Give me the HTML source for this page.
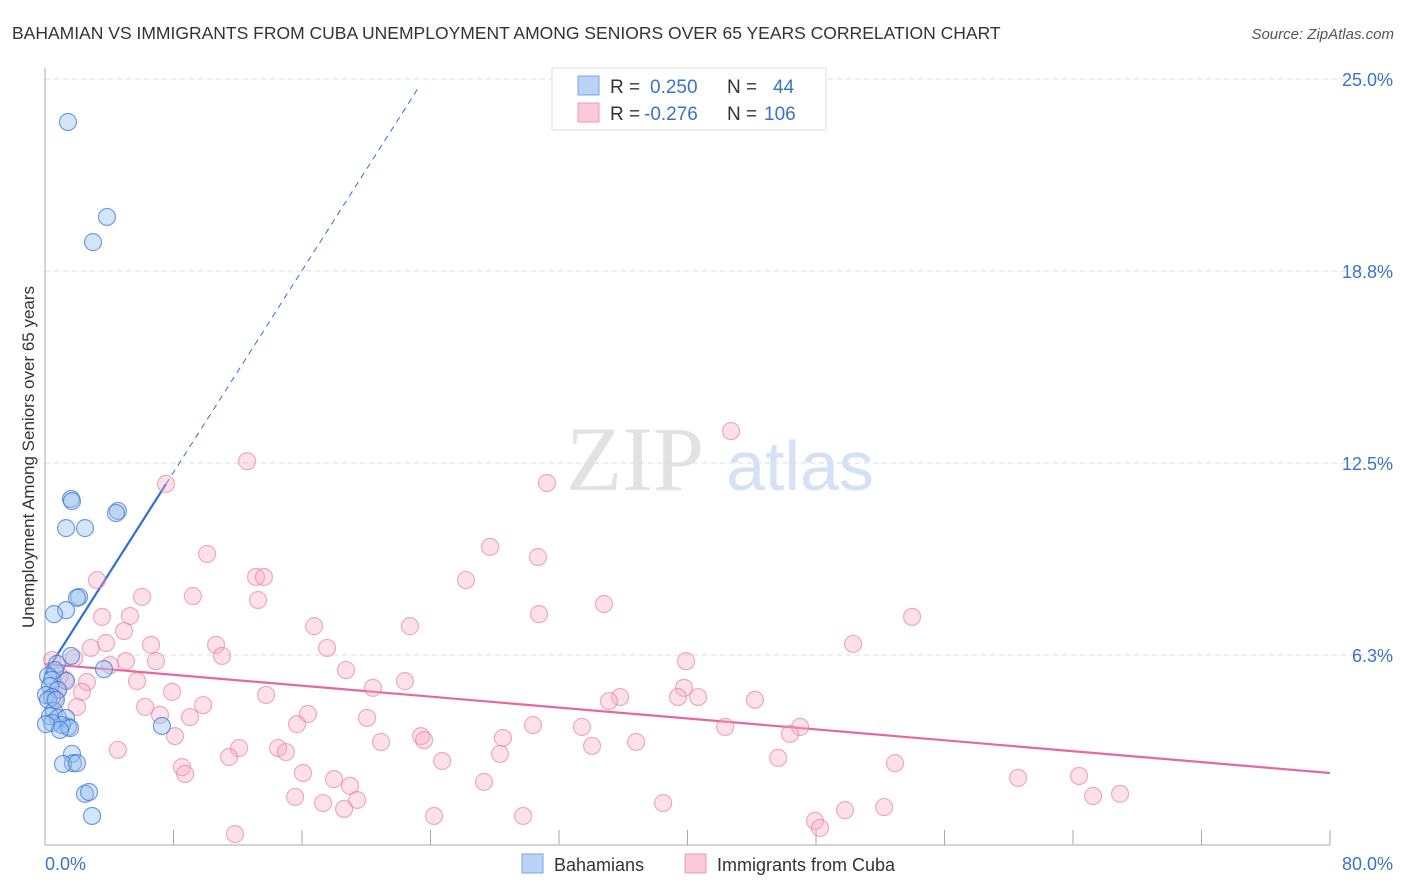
<!DOCTYPE html>
<html><head><meta charset="utf-8"><style>
body{margin:0;background:#fff;font-family:"Liberation Sans",sans-serif}
svg{display:block}
</style></head><body>
<svg width="1406" height="892" viewBox="0 0 1406 892" xmlns="http://www.w3.org/2000/svg">
<text x="12" y="39" font-size="17.5" fill="#333">BAHAMIAN VS IMMIGRANTS FROM CUBA UNEMPLOYMENT AMONG SENIORS OVER 65 YEARS CORRELATION CHART</text>
<text x="1394" y="39" font-size="15" fill="#555" font-style="italic" text-anchor="end">Source: ZipAtlas.com</text>
<g>
<text x="635" y="490" font-size="92" font-family="Liberation Serif,serif" fill="#e2e2e2" text-anchor="middle">ZIP</text>
<text x="800" y="490" font-size="70" fill="#d4e2f4" text-anchor="middle">atlas</text>
</g>
<g id="grid"></g>
<g id="axes"></g>
<text transform="translate(34,457) rotate(-90)" font-size="17" fill="#333" text-anchor="middle">Unemployment Among Seniors over 65 years</text>
<g id="lines"></g>
<g id="pts"></g>
<g>
<rect x="552" y="68" width="274" height="62" fill="#fff" stroke="#ddd"/>
<rect x="578" y="76" width="21" height="19" fill="#b9d3f5" stroke="#7aa6e3"/>
<rect x="578" y="103" width="21" height="19" fill="#fbc9d8" stroke="#f09ab5"/>
<text x="610" y="93" font-size="19" fill="#333">R =</text>
<text x="650" y="93" font-size="19" fill="#3a73c8">0.250</text>
<text x="727" y="93" font-size="19" fill="#333">N =</text>
<text x="773" y="93" font-size="19" fill="#3a73c8">44</text>
<text x="610" y="120" font-size="19" fill="#333">R =</text>
<text x="644" y="120" font-size="19" fill="#3a73c8">-0.276</text>
<text x="727" y="120" font-size="19" fill="#333">N =</text>
<text x="764" y="120" font-size="19" fill="#3a73c8">106</text>
</g>
<g>
<rect x="522" y="854" width="21" height="19" fill="#b9d3f5" stroke="#7aa6e3"/>
<text x="554" y="871" font-size="18" fill="#333">Bahamians</text>
<rect x="685" y="854" width="21" height="19" fill="#fbc9d8" stroke="#f09ab5"/>
<text x="717" y="871" font-size="18" fill="#333">Immigrants from Cuba</text>
</g>
</svg>
<script>
const xTicks=[0,80];
const yTicks=[6.25,12.5,18.75,25];
const yTickLabels=["6.3%","12.5%","18.8%","25.0%"];
const blueX=[1.43,3.86,2.99,1.62,1.68,4.54,4.42,1.31,2.49,2.12,1.99,1.31,0.56,1.62,0.75,3.67,0.62,0.19,0.44,1.31,0.31,0.81,0.06,0.44,0.19,0.56,0.31,0.81,1.31,1.43,1.06,0.44,1.56,0.93,7.28,1.68,1.74,1.12,1.99,2.49,2.74,2.93,0.06,0.68];
const blueY=[23.60,20.51,19.69,11.33,11.26,10.94,10.87,10.38,10.38,8.14,8.11,7.71,7.58,6.22,5.96,5.79,5.76,5.57,5.44,5.40,5.24,5.11,4.95,4.88,4.79,4.43,4.26,4.20,4.20,3.91,3.97,4.04,3.87,3.81,3.94,3.03,2.73,2.70,2.73,1.73,1.79,1.01,4.00,4.79];
const pinkX=[42.71,12.58,31.25,7.53,27.71,30.69,10.09,13.14,13.63,26.21,3.24,6.04,9.21,13.26,34.80,30.76,5.29,53.98,3.55,22.72,16.75,4.92,50.31,6.60,2.86,10.65,3.80,17.56,11.02,6.91,5.04,39.91,4.05,1.81,18.74,22.41,2.61,5.73,39.78,20.42,13.76,7.91,2.30,39.41,35.80,35.11,40.66,44.20,9.84,6.23,1.99,9.03,7.16,16.37,20.05,15.69,30.38,33.43,42.34,47.01,46.38,23.41,8.09,28.51,23.60,20.92,36.80,34.06,4.54,12.08,14.51,15.00,11.46,28.33,24.72,45.64,52.92,8.53,8.72,16.06,17.99,18.99,27.33,60.58,64.38,65.25,66.93,15.57,17.31,19.43,38.48,52.24,18.62,49.81,24.22,29.76,47.94,48.25,11.83,0.44,0.81,0.93,1.25,0.62];
const pinkY=[13.54,12.56,11.85,11.82,9.77,9.44,9.54,8.79,8.79,8.69,8.69,8.14,8.17,8.04,7.91,7.58,7.52,7.49,7.49,7.19,7.19,7.03,6.61,6.58,6.48,6.58,6.64,6.48,6.22,6.05,6.05,6.05,5.92,6.15,5.76,5.40,5.37,5.40,5.18,5.18,4.95,5.05,5.05,4.88,4.88,4.75,4.88,4.79,4.62,4.56,4.56,4.23,4.30,4.33,4.20,4.00,3.97,3.91,3.91,3.91,3.68,3.61,3.61,3.55,3.48,3.42,3.42,3.29,3.16,3.22,3.22,3.09,2.93,3.03,2.80,2.90,2.73,2.60,2.38,2.41,2.21,1.99,2.12,2.25,2.31,1.66,1.73,1.63,1.43,1.53,1.43,1.30,1.24,1.20,1.01,1.01,0.85,0.62,0.42,6.09,5.11,5.57,5.44,4.85];
const blueTrend=[5.63,0.821];   // intercept, slope
const pinkTrend=[5.96,-0.0444];
const NS="http://www.w3.org/2000/svg";
const X0=45,X1=1330,Y0=847,PPY=192/6.25;
const sx=v=>X0+(v-xTicks[0])/(xTicks[1]-xTicks[0])*(X1-X0);
const sy=v=>Y0-v*PPY;
function mk(tag,attrs,parent){const e=document.createElementNS(NS,tag);for(const k in attrs)e.setAttribute(k,attrs[k]);parent.appendChild(e);return e;}
const grid=document.getElementById('grid'),axes=document.getElementById('axes');
yTicks.forEach((t,i)=>{
  const g=mk('line',{x1:45,x2:1395,y1:sy(t),y2:sy(t),stroke:'#ddd','stroke-dasharray':'5,4'},grid);
  
  
  const l=mk('text',{x:1393,y:sy(t)+7,'font-size':18,fill:'#3a73c8','text-anchor':'end'},axes);
  l.textContent=yTickLabels[i];
  
  
});
mk('line',{x1:45,x2:45,y1:68,y2:845,stroke:'#aaa'},axes);
mk('line',{x1:45,x2:1330,y1:845,y2:845,stroke:'#aaa'},axes);
for(let i=1;i<=10;i++){const x=X0+i*(X1-X0)/10;mk('line',{x1:x,x2:x,y1:830,y2:845,stroke:'#aaa'},axes);}
const xl0=mk('text',{x:45,y:870,'font-size':18,fill:'#3a73c8'},axes);xl0.textContent=xTicks[0].toFixed(1)+'%';


const xl1=mk('text',{x:1393,y:870,'font-size':18,fill:'#3a73c8','text-anchor':'end'},axes);xl1.textContent=xTicks[1].toFixed(1)+'%';


const pts=document.getElementById('pts');
pinkX.forEach((x,i)=>{const c=mk('circle',{cx:sx(x),cy:sy(pinkY[i]),r:8.5,fill:'rgba(248,170,195,0.35)',stroke:'rgba(230,120,155,0.6)','stroke-width':1.2},pts);

});
blueX.forEach((x,i)=>{const c=mk('circle',{cx:sx(x),cy:sy(blueY[i]),r:8.5,fill:'rgba(150,190,240,0.4)',stroke:'rgba(60,120,210,0.7)','stroke-width':1.2},pts);

});
const lines=document.getElementById('lines');
const bEnd=7.53,bDash=23.35;
const b1=mk('line',{x1:sx(0),y1:sy(blueTrend[0]),x2:sx(bEnd),y2:sy(blueTrend[0]+blueTrend[1]*bEnd),stroke:'#2f6fd6','stroke-width':2.2},lines);


const b2=mk('line',{x1:sx(bEnd),y1:sy(blueTrend[0]+blueTrend[1]*bEnd),x2:sx(bDash),y2:sy(blueTrend[0]+blueTrend[1]*bDash),stroke:'#2f6fd6','stroke-width':1,'stroke-dasharray':'6,5'},lines);


const p1=mk('line',{x1:sx(0),y1:sy(pinkTrend[0]),x2:sx(80),y2:sy(pinkTrend[0]+pinkTrend[1]*80),stroke:'#e8679a','stroke-width':2.2},lines);


</script>
</body></html>
